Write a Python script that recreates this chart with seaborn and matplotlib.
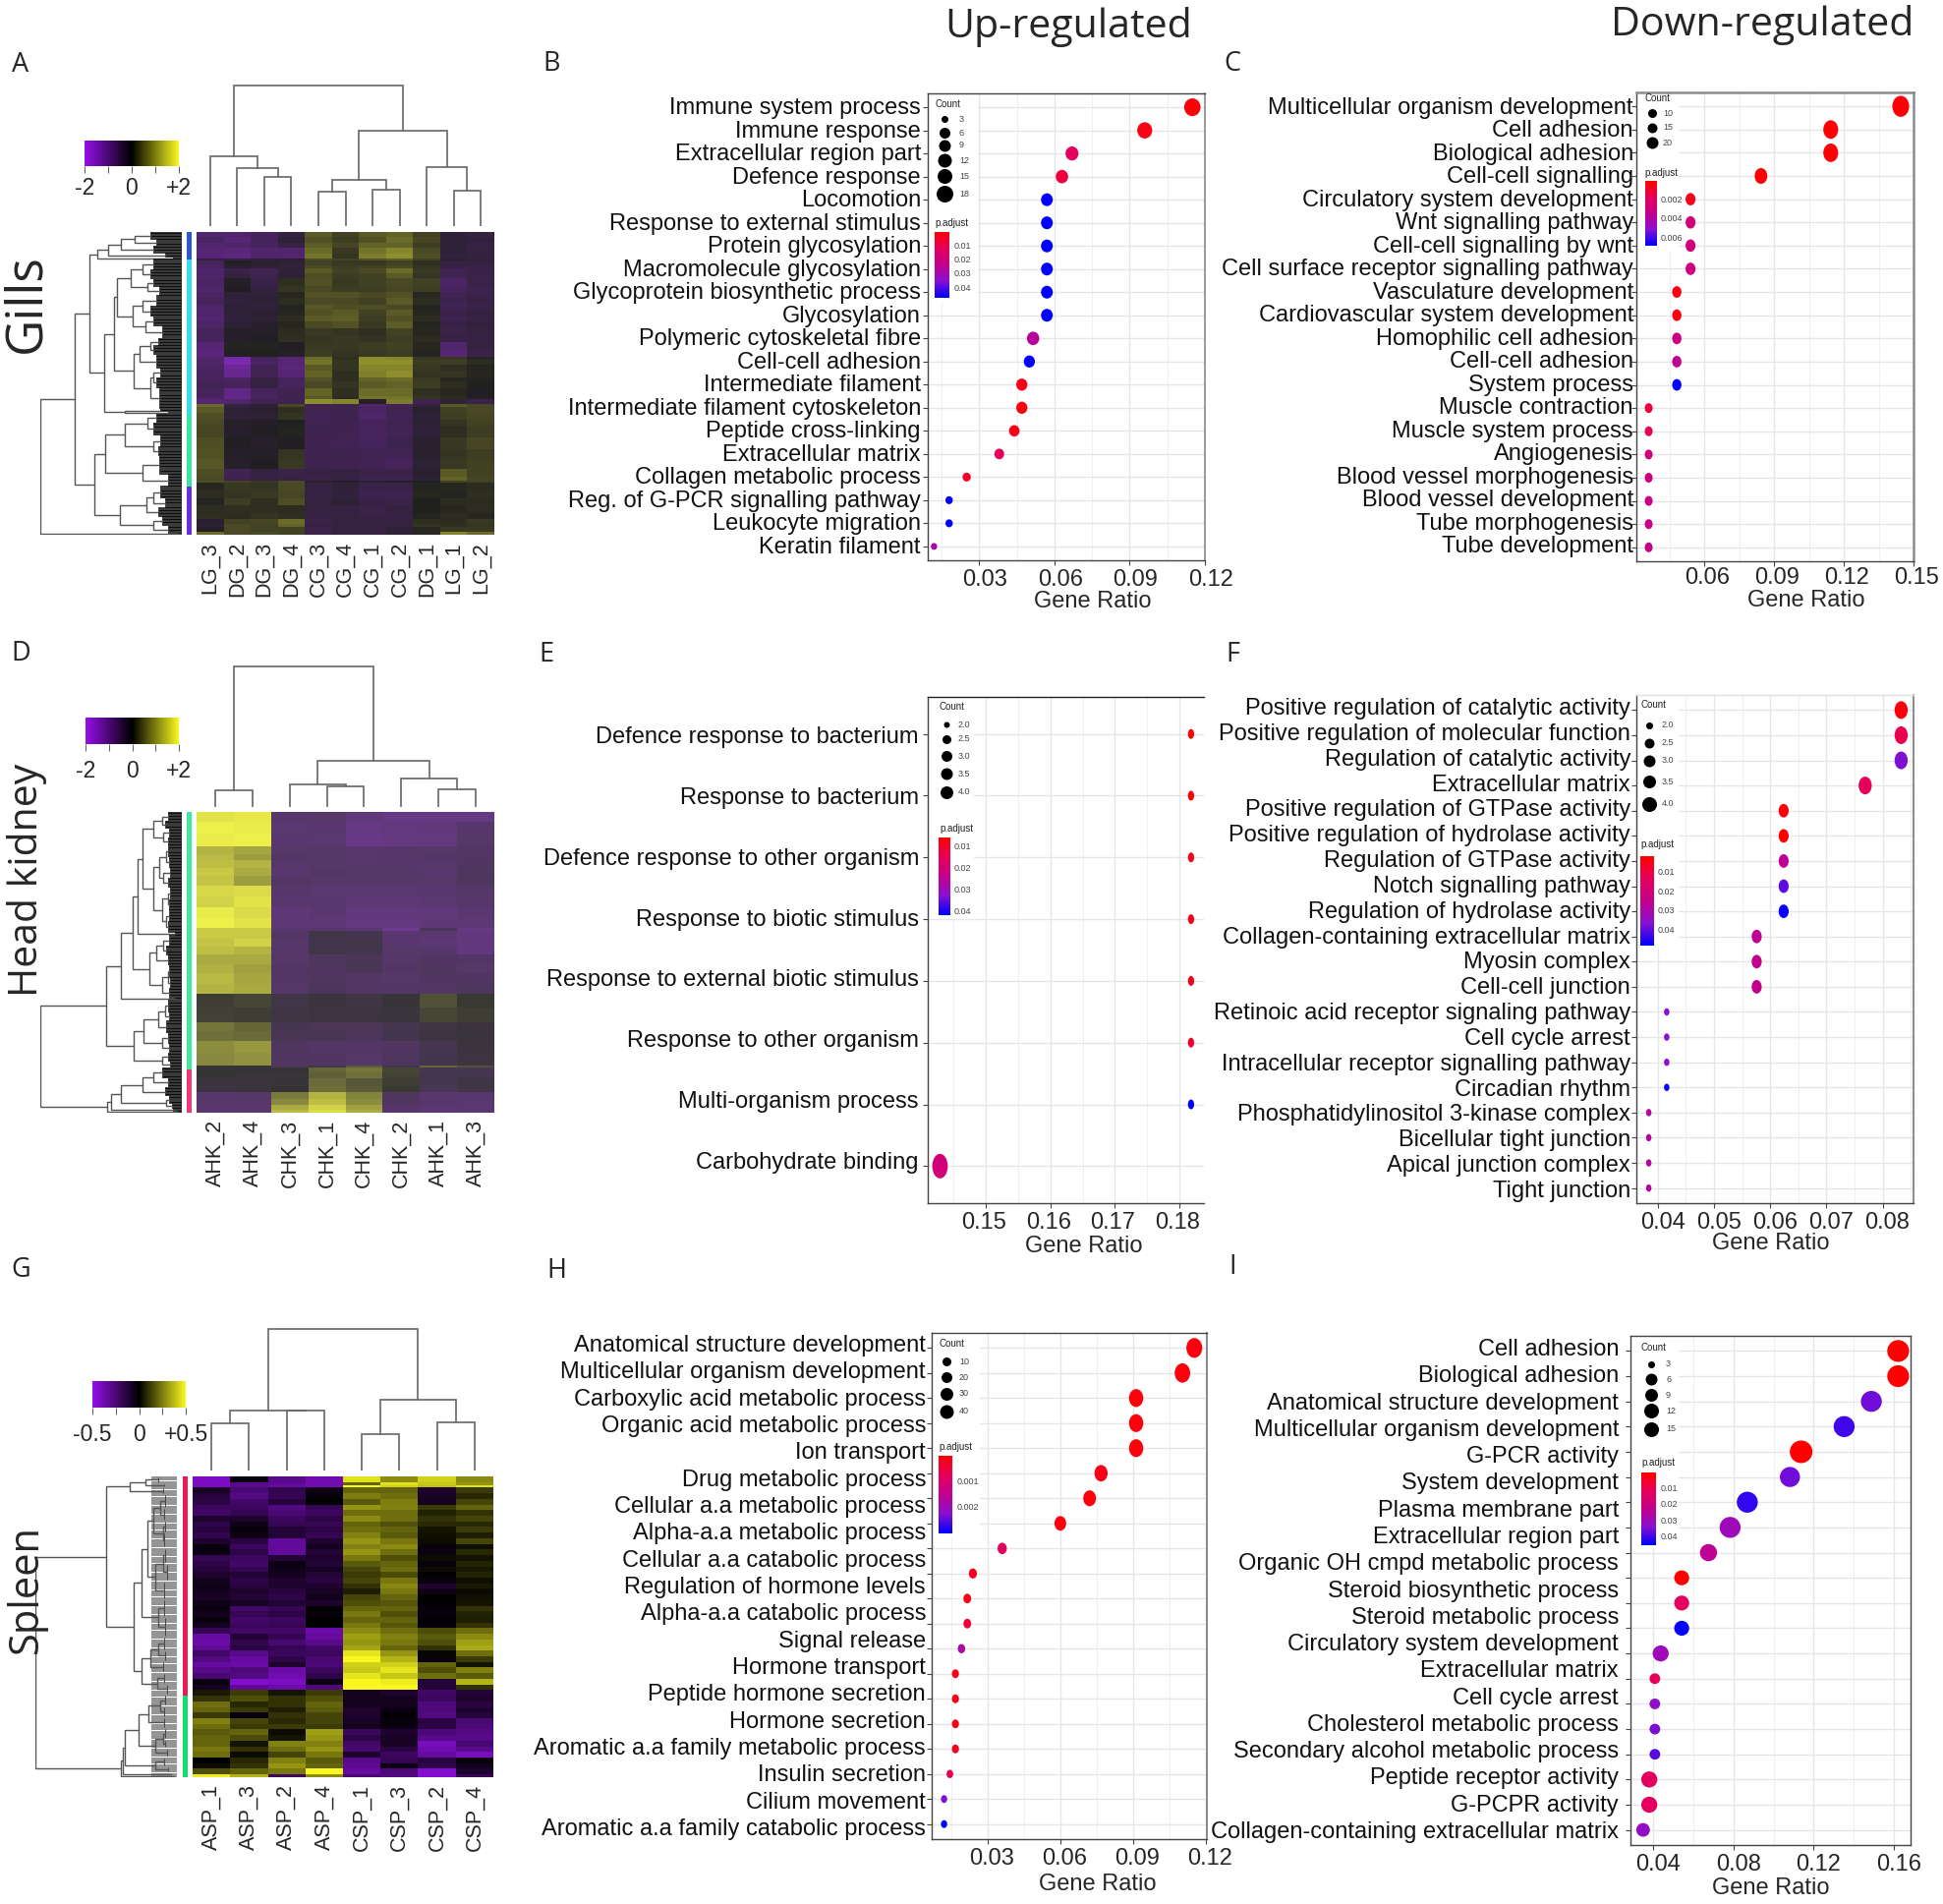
# libraries
import numpy as np
import pandas as pd
import seaborn as sns
import matplotlib
matplotlib.use("Agg")
import matplotlib.pyplot as plt
from matplotlib.colors import LinearSegmentedColormap, ListedColormap, TwoSlopeNorm
from matplotlib.patches import Rectangle
from matplotlib.path import Path
from matplotlib.transforms import Affine2D, ScaledTranslation

W, H = 1977, 1937

sns.set_style("white")
plt.rcParams["font.family"] = ["Liberation Sans", "DejaVu Sans"]

# heatmap columns
gills_cols = ["LG_3", "DG_2", "DG_3", "DG_4", "CG_3", "CG_4", "CG_1", "CG_2", "DG_1", "LG_1", "LG_2"]
kidney_cols = ["AHK_2", "AHK_4", "CHK_3", "CHK_1", "CHK_4", "CHK_2", "AHK_1", "AHK_3"]
spleen_cols = ["ASP_1", "ASP_3", "ASP_2", "ASP_4", "CSP_1", "CSP_3", "CSP_2", "CSP_4"]

gills_counts = [3, 4, 3, 4, 3, 1, 3, 2, 3, 3, 5, 4, 4, 4, 3, 4, 4, 4, 5, 4, 5, 4, 2, 3, 4, 4, 3, 4, 5, 2, 3, 2, 4, 4, 4,
                7, 8, 6, 6, 5, 3, 1, 5, 5, 4, 5, 4, 3, 2, 3, 2]
gills_rows = [
    [-.9, -.9, -.7, -.4, .7, .4, .7, .8, .4, -.3, -.4],
    [-.8, -1.0, -.7, -.3, .6, .35, .6, .9, .45, -.3, -.35],
    [-.95, -.85, -.75, -.45, .75, .45, .8, .8, .35, -.25, -.45],
    [-1.0, -1.1, -.9, -.9, .9, .3, 1.0, 1.2, .5, -.3, -.4],
    [-1.05, -1.15, -.85, -.95, 1.0, .25, 1.1, 1.3, .55, -.35, -.4],
    [-.4, -.4, -.3, -.2, .5, .4, .6, .7, .4, -.2, -.3],
    [-.7, -.1, -.2, -.3, .4, .3, .3, .4, .2, -.4, -.4],
    [-.75, -.2, -.3, -.35, .5, .35, .4, .5, .25, -.45, -.45],
    [-.9, -.5, -.6, -.3, .7, .4, .5, .9, .3, -.6, -.5],
    [-.85, -.4, -.55, -.25, .55, .35, .4, .7, .25, -.6, -.5],
    [-.8, -.1, -.5, .2, .6, .3, .4, .5, .4, -.8, -.5],
    [-.9, -.05, -.4, .25, .5, .35, .35, .45, .35, -.75, -.55],
    [-.8, -.3, -.3, .1, .6, .6, .5, .6, .1, -.6, -.5],
    [-.7, -.35, -.25, .15, .5, .5, .4, .7, .15, -.55, -.45],
    [-.85, -.25, -.35, .05, .65, .55, .55, .5, .05, -.65, -.5],
    [-.9, -.3, -.2, .1, .6, .7, .4, .7, .1, -.5, -.4],
    [-.95, -.35, -.25, .15, .7, .75, .35, .6, .15, -.55, -.45],
    [-.8, -.25, -.15, .1, .5, .6, .3, .75, .05, -.45, -.35],
    [-.7, -.1, -.1, .15, .3, .25, .2, .4, .1, -.5, -.4],
    [-.75, -.15, -.05, .2, .25, .3, .25, .35, .15, -.45, -.45],
    [-1.0, .05, .05, -.05, .3, .3, .35, .4, .1, -.9, -.4],
    [-1.1, -.05, .0, -.1, .35, .25, .3, .35, .05, -1.0, -.5],
    [-.9, -1.6, -.7, -1.0, .9, .2, 1.3, 1.2, .3, .3, .1],
    [-.85, -1.7, -.8, -1.05, 1.0, .25, 1.35, 1.35, .35, .35, .15],
    [-.8, -1.4, -.6, -1.1, .7, .25, 1.2, 1.2, .3, .2, .05],
    [-.75, -1.3, -.65, -1.0, .8, .2, 1.15, 1.3, .25, .25, .1],
    [-.7, -.8, -.4, -.7, .6, .2, .8, .9, .3, .1, .05],
    [-.65, -.7, -.45, -.75, .5, .25, .7, .8, .35, .15, .0],
    [-.7, -1.2, -.7, -.6, .8, .2, .9, .9, .2, .1, -.05],
    [-.8, -1.3, -.75, -.55, .7, .15, 1.0, 1.0, .25, .15, -.1],
    [-1.0, -.9, -.6, -.6, 1.3, 1.2, -.1, 1.1, -.6, -.3, -.5],
    [.9, -.4, -.3, .5, -.6, -.6, -.9, -.7, -.4, .7, .5],
    [.7, -.25, -.2, .2, -.6, -.6, -.8, -.6, -.2, .4, .5],
    [.55, -.3, -.25, .25, -.65, -.55, -.85, -.65, -.25, .35, .45],
    [.5, -.1, -.1, .0, -.6, -.6, -.7, -.6, -.25, .25, .4],
    [.45, -.15, -.05, .05, -.55, -.6, -.75, -.65, -.3, .2, .35],
    [.55, -.05, -.15, -.05, -.6, -.65, -.7, -.55, -.2, .3, .45],
    [.6, -.1, -.1, .25, -.6, -.55, -.6, -.65, -.2, .25, .35],
    [.65, -.15, -.05, .3, -.55, -.6, -.65, -.7, -.25, .3, .4],
    [.55, -.6, -.4, -.5, -.45, -.4, -.5, -.5, -.2, .7, .4],
    [.5, -.55, -.45, -.45, -.5, -.45, -.55, -.55, -.25, .8, .45],
    [.55, .4, .3, .5, -.2, -.1, -.2, -.1, .0, .4, .4],
    [.1, .3, .25, .5, -.4, -.3, -.5, -.5, .05, .1, .15],
    [.15, .25, .3, .45, -.45, -.35, -.55, -.55, .1, .05, .2],
    [.05, .35, .2, .55, -.4, -.25, -.45, -.5, .0, .15, .15],
    [.15, .2, .2, .15, -.4, -.4, -.5, -.4, .0, .1, .15],
    [.2, .15, .25, .2, -.45, -.4, -.45, -.45, .05, .15, .1],
    [-.2, .4, .45, .9, -.5, -.4, -.4, -.4, .2, .15, .3],
    [-.25, .5, .4, .8, -.45, -.45, -.45, -.4, .25, .2, .25],
    [-.1, .5, .4, .4, -.5, -.4, -.4, -.3, .1, .3, .3],
    [.9, .5, .5, .4, -.5, -.4, -.4, -.3, .1, 1.2, .9],
]

kidney_counts = [6, 8, 8, 5, 4, 5, 5, 6, 7, 7, 7, 6, 2, 5, 5, 5, 6, 6, 7, 6, 9, 9, 6, 6, 8, 8, 1, 3, 4, 5, 4, 4, 4, 3, 2]
kidney_rows = [
    [1.75, 1.8, -.9, -.85, -1.1, -1.3, -1.3, -1.3],
    [1.9, 1.85, -1.0, -.95, -1.3, -1.2, -1.15, -.9],
    [1.85, 1.9, -.95, -1.0, -1.35, -1.25, -1.2, -.85],
    [1.3, 1.15, -.85, -.85, -.9, -.9, -.85, -.8],
    [1.35, 1.05, -.8, -.85, -.95, -.85, -.8, -.75],
    [1.4, 1.3, -.9, -.85, -.9, -.9, -.9, -.75],
    [1.5, 1.2, -.95, -.8, -.85, -.85, -.95, -.7],
    [1.45, 1.05, -.8, -.85, -.85, -.85, -.85, -.7],
    [1.65, 1.7, -.9, -1.0, -1.0, -1.0, -.95, -.85],
    [1.6, 1.75, -.95, -.95, -1.05, -1.05, -1.0, -.9],
    [1.85, 1.7, -1.1, -1.0, -1.15, -1.15, -1.15, -1.0],
    [1.9, 1.75, -1.05, -1.05, -1.2, -1.2, -1.1, -1.05],
    [1.5, 1.5, -1.0, -.95, -1.0, -1.5, -.6, -1.3],
    [1.5, 1.5, -.8, -.35, -.4, -1.0, -1.0, -1.2],
    [1.45, 1.6, -.85, -.4, -.35, -.95, -1.05, -1.15],
    [1.4, 1.3, -.9, -.35, -.4, -.85, -.9, -1.2],
    [1.2, 1.2, -.85, -.7, -.6, -.85, -.75, -.8],
    [1.25, 1.1, -.8, -.75, -.55, -.8, -.7, -.85],
    [1.35, 1.15, -.8, -.7, -.8, -.85, -.75, -.75],
    [1.3, 1.2, -.85, -.65, -.75, -.8, -.8, -.7],
    [.1, .2, -.35, -.2, -.3, -.1, .3, .05],
    [.15, .1, -.3, -.25, -.25, -.15, .2, .1],
    [.65, .5, -.5, -.6, -.6, -.45, -.3, -.2],
    [.6, .55, -.55, -.55, -.65, -.4, -.25, -.15],
    [.9, 1.0, -.7, -.8, -.8, -.75, -.45, -.2],
    [.85, .95, -.75, -.75, -.85, -.7, -.4, -.25],
    [-.1, -.1, -.6, -.4, .4, -.4, .5, .3],
    [-.05, -.05, -.05, .5, .65, .2, -.5, -.5],
    [.0, -.1, -.1, .45, .6, .15, -.45, -.45],
    [-.2, -.2, -.1, .55, .35, .1, -.5, -.3],
    [-.25, -.15, -.05, .6, .4, .05, -.55, -.35],
    [-.9, -.85, .7, 1.3, .8, -.7, -.95, -.95],
    [-.85, -.9, .85, 1.4, .9, -.75, -.9, -1.0],
    [-.95, -.95, 1.2, 1.6, 1.1, -.9, -1.0, -1.0],
    [-1.0, -.95, 1.35, 1.7, 1.2, -.95, -1.05, -1.0],
]

spleen_counts = [2, 1, 1, 2, 2, 2, 2, 2, 2, 2, 2, 2, 2, 2, 2, 2, 2, 2, 2, 2, 2, 2, 2, 2, 2, 2, 2, 2,
                 2, 2, 2, 2, 2, 2, 2, 2, 2, 2, 2, 2, 2, 2, 2, 2, 2, 2, 2, 2, 2, 2, 2, 2, 2, 2, 1]
spleen_rows = [
    [-.42, -.03, -.3, -.38, .45, .28, .42, .28],
    [-.42, -.3, -.32, -.38, .2, .45, .4, .3],
    [-.42, -.3, -.35, -.38, .5, .42, .38, .45],
    [-.08, -.25, -.17, -.05, .2, .2, -.1, .12],
    [-.13, -.28, -.18, -.02, .25, .22, -.08, .08],
    [-.15, -.22, -.13, -.0, .18, .25, -.07, .14],
    [-.2, -.2, -.28, -.18, .3, .26, .12, .2],
    [-.22, -.18, -.25, -.2, .22, .22, .07, .1],
    [-.1, -.1, -.2, -.15, .28, .22, .1, .14],
    [-.16, -.05, -.18, -.18, .2, .16, .08, .08],
    [-.14, -.02, -.12, -.15, .22, .2, .04, .12],
    [-.17, -.05, -.12, -.18, .26, .18, .03, .06],
    [-.1, -.14, -.33, -.1, .3, .24, .02, .14],
    [-.03, -.2, -.33, -.07, .26, .28, -.02, .03],
    [-.04, -.16, -.33, -.12, .3, .22, -.04, .08],
    [-.18, -.2, -.12, -.1, .24, .16, .02, .04],
    [-.15, -.22, -.04, -.12, .18, .2, -.02, .07],
    [-.13, -.18, -.05, -.07, .14, .22, .02, .05],
    [-.1, -.12, -.07, -.12, .12, .15, .0, .07],
    [-.06, -.16, -.1, -.14, .14, .24, -.03, .03],
    [-.05, -.14, -.1, -.1, .1, .27, -.1, .05],
    [-.07, -.1, -.14, -.08, .06, .24, -.05, .02],
    [-.08, -.12, -.16, -.06, .14, .2, .0, .03],
    [-.05, -.08, -.12, -.1, .16, .17, -.01, .04],
    [-.03, -.22, -.18, -.0, .2, .2, -.02, .1],
    [-.06, -.18, -.15, -.02, .24, .16, -.03, .07],
    [-.03, -.22, -.2, -.0, .2, .2, -.01, .06],
    [-.07, -.2, -.18, -.01, .24, .17, -.02, .1],
    [-.18, -.22, -.22, -.36, .28, .22, .15, .22],
    [-.35, -.12, -.18, -.34, .32, .26, .18, .28],
    [-.36, -.17, -.24, -.3, .3, .24, .16, .32],
    [-.32, -.14, -.18, -.22, .33, .2, .1, .34],
    [-.22, -.3, -.2, -.2, .46, .3, .01, .22],
    [-.28, -.34, -.16, -.24, .5, .36, -.03, .12],
    [-.34, -.36, -.1, -.26, .42, .42, .2, .04],
    [-.3, -.26, -.36, -.2, .4, .46, .16, .26],
    [-.24, -.28, -.38, -.16, .46, .4, .22, .18],
    [-.04, -.44, -.42, -.04, .52, .48, -.12, .36],
    [-.07, -.32, -.36, -.26, .55, .5, -.12, .1],
    [.05, .12, .04, .12, -.07, -.1, -.22, -.12],
    [.1, .16, .1, .16, -.06, -.07, -.2, -.1],
    [.22, .08, .1, .2, -.07, -.06, -.26, -.14],
    [.2, .12, .06, .18, -.1, -.04, -.26, -.1],
    [.12, -.02, .1, .14, -.1, -.01, -.28, -.13],
    [.26, .14, .08, .14, -.08, -.02, -.14, -.24],
    [.22, .12, .12, .12, -.06, -.04, -.16, -.26],
    [.18, .2, .02, .32, -.2, -.1, -.26, -.28],
    [.2, .15, .04, .3, -.16, -.08, -.3, -.3],
    [.2, .04, .26, .26, -.22, -.08, -.4, -.24],
    [.24, .1, .22, .3, -.24, -.14, -.38, -.3],
    [.22, .02, .14, .24, -.1, -.2, -.34, -.4],
    [.0, .08, .26, .18, -.3, -.18, -.14, -.03],
    [.02, .1, .3, .2, -.32, -.04, -.16, -.06],
    [.16, .2, .24, .5, -.34, -.26, -.44, -.1],
    [.48, .36, -.2, .28, -.25, -.28, -.45, -.18],
]

# cluster side bars
gills_groups = [18, 103, 47, 32]
gills_group_colors = ["#2a5ad0", "#38dcf0", "#38e6a0", "#6a2ee0"]
kidney_groups = [171, 29]
kidney_group_colors = ["#40e8a0", "#f03878"]
spleen_groups = [73, 27]
spleen_group_colors = ["#f01850", "#10e070"]

# column trees: (height, left, right), ints are leaves
gills_col_tree = (1.0,
                  (.496, 0, (.411, 1, (.35, 2, 3))),
                  (.676, (.33, (.244, 4, 5), (.257, 6, 7)), (.42, 8, (.252, 9, 10))))
kidney_col_tree = (1.0,
                   (.12, 0, 1),
                   (.327, (.16, 2, (.144, 3, 4)), (.2, 5, (.125, 6, 7))))
spleen_col_tree = (1.0,
                   (.42, (.33, 0, 1), (.42, 2, 3)),
                   (.5, (.256, 4, 5), (.343, 6, 7)))

# row trees: (height, left, right), (height, n rows) are leaf clusters
gills_row_tree = (1.0,
    (.76,
     (.65,
      (.6, (.52, (.43, (.33, (.22, 5), (.18, 4)), (.2, 5)), (.12, 3)), (.06, 1)),
      (.546,
       (.48,
        (.455,
         (.36, (.28, (.2, 7), (.22, 6)), (.24, (.2, 5), (.16, 6))),
         (.35, (.28, (.18, 7), (.22, 7)), (.26, (.2, 6), (.14, 8)))),
        (.34, (.3, (.22, (.17, 5), (.2, 6)), (.18, 9)), (.22, (.2, (.15, 6), (.18, 7)), (.16, 14)))),
       (.4, (.15, 2), (.1, 1)))),
     (.62,
      (.54, (.4, (.24, (.18, 6), (.2, 8)), (.2, (.15, 8), (.17, 6))), (.28, (.16, 12), (.1, 8))),
      (.44, (.25, (.2, (.15, 8), (.12, 6)), (.17, 6)), (.2, (.14, 6), (.1, 5))))),
    (0.0, 1))
kidney_row_tree = (1.0,
    (.533,
     (.434,
      (.347,
       (.31,
        (.275,
         (.2, (.14, (.1, 6), (.12, 5)), (.13, (.09, 6), (.1, 5))),
         (.2, (.16, (.11, (.1, 8), (.09, 7)), (.13, (.08, 7), (.1, 6))),
          (.14, (.1, (.08, 8), (.09, 7)), (.11, (.09, 8), (.1, 7))))),
        (.05, 2)),
       (.23, (.18, (.13, (.09, 7), (.11, 6)), (.1, 7)), (.14, (.1, (.09, 8), (.08, 7)), (.09, 7)))),
      (.05, 1)),
     (.337, (.27, (.17, (.12, (.1, 8), (.09, 6)), (.11, 8)), (.14, (.1, 7), (.09, 6))), (.14, (.1, 6), (.08, 4)))),
    (.53, (.5, (.43, (.28, (.2, (.14, 7), (.1, 6)), (.12, 6)), (.11, (.09, 5), (.07, 3))), (.06, 2)), (.03, 1)))
spleen_row_tree = (1.0,
    (.5,
     (.33, (.22, (.13, 3), (.09, 2)), (.1, 3)),
     (.304,
      (.247,
       (.21, (.17, (.12, (.08, 6), (.09, 6)), (.1, (.08, 5), (.09, 7))), (.15, (.1, (.08, 7), (.07, 8)), (.09, 8))),
       (.13, (.09, 8), (.08, 9))),
      (.25, (.19, (.13, (.09, 6), (.08, 5)), (.1, 5)), (.14, (.09, 5), (.07, 5))))),
    (.395,
     (.385, (.37, (.27, (.2, (.12, (.08, 5), (.09, 5)), (.09, 5)), (.15, (.1, (.08, 5), (.08, 4)), (.07, 4))),
                  (.15, (.09, 4), (.06, 3))), (.04, 1)),
     (.02, 1)))

# dot plot B
terms_b = ["Immune system process", "Immune response", "Extracellular region part", "Defence response",
           "Locomotion", "Response to external stimulus", "Protein glycosylation", "Macromolecule glycosylation",
           "Glycoprotein biosynthetic process", "Glycosylation", "Polymeric cytoskeletal fibre", "Cell-cell adhesion",
           "Intermediate filament", "Intermediate filament cytoskeleton", "Peptide cross-linking",
           "Extracellular matrix", "Collagen metabolic process", "Reg. of G-PCR signalling pathway",
           "Leukocyte migration", "Keratin filament"]
ratio_b = [.115, .096, .067, .063, .057, .057, .057, .057, .057, .057, .0515, .05, .047, .047, .044, .038, .025, .018, .018, .012]
count_b = [18, 15, 11, 10, 9, 9, 9, 9, 9, 9, 10, 8, 8, 8, 7, 6, 4, 3, 3, 2]
padj_b = [.001, .003, .012, .008, .047, .047, .047, .047, .047, .047, .026, .047, .003, .002, .003, .012, .006, .047, .047, .028]

# dot plot C
terms_c = ["Multicellular organism development", "Cell adhesion", "Biological adhesion", "Cell-cell signalling",
           "Circulatory system development", "Wnt signalling pathway", "Cell-cell signalling by wnt",
           "Cell surface receptor signalling pathway", "Vasculature development", "Cardiovascular system development",
           "Homophilic cell adhesion", "Cell-cell adhesion", "System process", "Muscle contraction",
           "Muscle system process", "Angiogenesis", "Blood vessel morphogenesis", "Blood vessel development",
           "Tube morphogenesis", "Tube development"]
ratio_c = [.1445, .1144, .1144, .0844, .0541, .0541, .0541, .0541, .0482, .0482, .0482, .0482, .0482, .0361, .0361, .0361, .0361, .0361, .0361, .0361]
count_c = [24, 19, 19, 14, 9, 9, 9, 9, 8, 8, 8, 8, 8, 6, 6, 6, 6, 6, 6, 6]
padj_c = [.0001, .0001, .0001, .0001, .0005, .0028, .0028, .0029, .0003, .0003, .003, .0036, .0068, .0012, .0016, .0029, .003, .0032, .0032, .0032]

# dot plot E
terms_e = ["Defence response to bacterium", "Response to bacterium", "Defence response to other organism",
           "Response to biotic stimulus", "Response to external biotic stimulus", "Response to other organism",
           "Multi-organism process", "Carbohydrate binding"]
ratio_e = [.1818, .1818, .1818, .1818, .1818, .1818, .1818, .1429]
count_e = [2, 2, 2, 2, 2, 2, 2, 4]
padj_e = [.0056, .0056, .008, .008, .008, .01, .0418, .02]

# dot plot F
terms_f = ["Positive regulation of catalytic activity", "Positive regulation of molecular function",
           "Regulation of catalytic activity", "Extracellular matrix", "Positive regulation of GTPase activity",
           "Positive regulation of hydrolase activity", "Regulation of GTPase activity", "Notch signalling pathway",
           "Regulation of hydrolase activity", "Collagen-containing extracellular matrix", "Myosin complex",
           "Cell-cell junction", "Retinoic acid receptor signaling pathway", "Cell cycle arrest",
           "Intracellular receptor signalling pathway", "Circadian rhythm", "Phosphatidylinositol 3-kinase complex",
           "Bicellular tight junction", "Apical junction complex", "Tight junction"]
ratio_f = [.0833, .0833, .0833, .0769, .0624, .0624, .0624, .0624, .0624, .0576, .0576, .0576, .0416, .0416, .0416, .0416, .0384, .0384, .0384, .0384]
count_f = [4, 4, 4, 4, 3, 3, 3, 3, 3, 3, 3, 3, 2, 2, 2, 2, 2, 2, 2, 2]
padj_f = [.003, .012, .037, .013, .002, .002, .026, .04, .047, .026, .025, .025, .036, .036, .036, .047, .028, .028, .028, .028]

# dot plot H: 20 rows of dots, 19 labels
terms_h = ["Anatomical structure development", "Multicellular organism development", "Carboxylic acid metabolic process",
           "Organic acid metabolic process", "Ion transport", "Drug metabolic process", "Cellular a.a metabolic process",
           "Alpha-a.a metabolic process", "Cellular a.a catabolic process", "Regulation of hormone levels",
           "Alpha-a.a catabolic process", "Signal release", "Hormone transport", "Peptide hormone secretion",
           "Hormone secretion", "Aromatic a.a family metabolic process", "Insulin secretion", "Cilium movement",
           "Aromatic a.a family catabolic process"]
ratio_h = [.1153, .1104, .0913, .0913, .0913, .0768, .0721, .06, .036, .0239, .0216, .0216, .0192, .0167, .0167, .0167, .0167, .0144, .012, .012]
count_h = [46, 44, 37, 37, 37, 31, 29, 24, 14, 10, 9, 9, 8, 7, 7, 7, 7, 6, 5, 5]
padj_h = [.0001, .0001, .0001, .0001, .0001, .0002, .0001, .0001, .0008, .0003, .0002, .0005, .0018, .0002, .0002, .0002, .0003, .0007, .0023, .003]

# dot plot I: 20 rows of dots, 19 labels
terms_i = ["Cell adhesion", "Biological adhesion", "Anatomical structure development", "Multicellular organism development",
           "G-PCR activity", "System development", "Plasma membrane part", "Extracellular region part",
           "Organic OH cmpd metabolic process", "Steroid biosynthetic process", "Steroid metabolic process",
           "Circulatory system development", "Extracellular matrix", "Cell cycle arrest", "Cholesterol metabolic process",
           "Secondary alcohol metabolic process", "Peptide receptor activity", "G-PCPR activity",
           "Collagen-containing extracellular matrix"]
ratio_i = [.1623, .1623, .1489, .1353, .1138, .1082, .0869, .0783, .0675, .0541, .0541, .0541, .0436, .0407, .0407, .0407, .0407, .0379, .0379, .0348]
count_i = [14, 14, 13, 13, 15, 12, 13, 13, 9, 7, 7, 7, 8, 4, 4, 4, 4, 8, 8, 6]
padj_i = [.0003, .0003, .036, .04, .0001, .036, .041, .03, .024, .0001, .012, .045, .03, .012, .033, .035, .038, .012, .012, .032]

# legend entries
legend_counts_b = ["3", "6", "9", "12", "15", "18"]
legend_counts_c = ["10", "15", "20"]
legend_counts_e = ["2.0", "2.5", "3.0", "3.5", "4.0"]
legend_counts_f = ["2.0", "2.5", "3.0", "3.5", "4.0"]
legend_counts_h = ["10", "20", "30", "40"]
legend_counts_i = ["3", "6", "9", "12", "15"]
legend_p_b = [.01, .02, .03, .04]
legend_p_c = [.002, .004, .006]
legend_p_e = [.01, .02, .03, .04]
legend_p_f = [.01, .02, .03, .04]
legend_p_h = [.001, .002]
legend_p_i = [.01, .02, .03, .04]

heat_cmap = LinearSegmentedColormap.from_list("pby", ["#9410e8", "#000000", "#f8f820"])
dot_cmap = LinearSegmentedColormap.from_list("rb", ["#ff0000", "#e6005a", "#c4008c", "#8a10d0", "#0000ff"])

fig = plt.figure(figsize=(W / 100, H / 100), dpi=100, facecolor="white")


def box(x0, y0, x1, y1):
    return fig.add_axes([x0 / W, 1 - y1 / H, (x1 - x0) / W, (y1 - y0) / H])


def put(x, y, s, **kw):
    kw.setdefault("ha", "center")
    kw.setdefault("va", "center")
    fig.text(x / W, 1 - y / H, s, **kw)


def draw_col_tree(ax, node):
    if isinstance(node, int):
        return node + 0.5, 0.0
    xa, ha = draw_col_tree(ax, node[1])
    xb, hb = draw_col_tree(ax, node[2])
    ax.plot([xa, xa, xb, xb], [ha, node[0], node[0], hb], color="#666666", lw=1.2, solid_joinstyle="miter")
    return (xa + xb) / 2, node[0]


def draw_row_tree(ax, node, start, leaf_color, leaf_lw, leaf_min):
    if len(node) == 2:
        ys = start + 0.5 + np.arange(node[1])
        if node[0] > 0:
            ax.hlines(ys, 0, max(node[0], leaf_min), color=leaf_color, lw=leaf_lw)
        else:
            ax.hlines(ys, 0, 0.02, color=leaf_color, lw=leaf_lw)
        if node[1] > 1:
            ax.vlines(node[0], ys[0], ys[-1], color="#444444", lw=0.7)
        return node[0], ys.mean(), start + node[1]
    ha, ya, s1 = draw_row_tree(ax, node[1], start, leaf_color, leaf_lw, leaf_min)
    hb, yb, s2 = draw_row_tree(ax, node[2], s1, leaf_color, leaf_lw, leaf_min)
    ax.plot([ha, node[0], node[0], hb], [ya, ya, yb, yb], color="#555555", lw=1.0, solid_joinstyle="miter")
    return node[0], (ya + yb) / 2, s2


def count_rows(node):
    if len(node) == 2:
        return node[1]
    return count_rows(node[1]) + count_rows(node[2])


def clustermap_panel(heat, dend_x, col_y, rows, counts, cols, limits, alpha, col_tree, row_tree,
                     groups, group_colors, side_x, bar, bar_labels, leaf_color, leaf_lw, leaf_min, bar_pad):
    # main heatmap, rows repeated by band height
    ax = box(heat[0], heat[1], heat[2], heat[3])
    sns.heatmap(np.repeat(np.array(rows), counts, axis=0), ax=ax, cmap=heat_cmap,
                norm=TwoSlopeNorm(vcenter=0, vmin=-limits[0], vmax=limits[1]),
                cbar=False, alpha=alpha, xticklabels=cols, yticklabels=False, rasterized=True)
    ax.tick_params(axis="x", length=0, pad=5, labelsize=15.5, labelrotation=90)

    # column tree
    ax = box(heat[0], col_y[0], heat[2], col_y[1])
    draw_col_tree(ax, col_tree)
    ax.set_xlim(0, len(cols))
    ax.set_ylim(0, 1.005)
    ax.axis("off")

    # row tree
    ax = box(dend_x[0], heat[1], dend_x[1], heat[3])
    n = count_rows(row_tree)
    draw_row_tree(ax, row_tree, 0, leaf_color, leaf_lw, leaf_min)
    ax.set_xlim(1.0, 0)
    ax.set_ylim(n, 0)
    ax.axis("off")

    # side bar
    ax = box(side_x[0], heat[1], side_x[1], heat[3])
    sns.heatmap(np.repeat(np.arange(len(groups)), groups).reshape(-1, 1), ax=ax, cbar=False,
                cmap=ListedColormap(group_colors), xticklabels=False, yticklabels=False)

    # colour key
    ax = box(bar[0], bar[1], bar[2], bar[3])
    ax.imshow(np.linspace(-1, 1, 200).reshape(1, -1), cmap=heat_cmap, aspect="auto", extent=[-1, 1, 0, 1])
    ax.set_yticks([])
    ax.set_xticks([-1, -.5, 0, .5, 1])
    ax.set_xticklabels(bar_labels, fontsize=16.5)
    ax.tick_params(axis="x", length=5, width=0.8, color="#666666", pad=bar_pad, bottom=True)
    for s in ax.spines.values():
        s.set_visible(False)


def dot_panel(rect, terms, ratios, counts, padj, xlim, xticks, minor, aspect, size_range, count_norm, p_norm,
              label_span, label_x, spines, leg, xlabel_at, tick_shift, tick_pad=3):
    ax = box(*rect)
    rows = np.arange(len(ratios))
    df = pd.DataFrame({"ratio": ratios, "row": rows, "count": counts, "padj": padj})
    ellipse = Affine2D().scale(aspect, 1).transform_path(Path.unit_circle())

    ax.set_axisbelow(True)
    ax.grid(True, which="major", color="#e6e6e6", lw=1.0)
    ax.set_xticks(minor, minor=True)
    ax.grid(True, which="minor", axis="x", color="#f0f0f0", lw=0.8)
    sns.scatterplot(data=df, x="ratio", y="row", size="count", sizes=size_range, size_norm=count_norm,
                    hue="padj", hue_norm=p_norm, palette=dot_cmap, marker=ellipse, linewidth=0,
                    legend=False, ax=ax, zorder=3)
    ax.set_xlim(*xlim)
    ax.set_ylim(len(rows) - 1 + 0.6, -0.6)
    ax.set_xticks(xticks)
    ax.set_xticklabels(["%.2f" % t for t in xticks], fontsize=17)
    ax.set_yticks(rows)
    ax.set_yticklabels([])
    ax.set_xlabel("")
    ax.set_ylabel("")
    ax.tick_params(axis="both", which="major", length=3.5, width=0.8, color="#444444", left=True, bottom=True, pad=tick_pad)
    ax.tick_params(axis="x", which="minor", length=0)
    shift = ScaledTranslation(tick_shift / 100, 0, fig.dpi_scale_trans)
    for lab in ax.get_xticklabels():
        lab.set_transform(lab.get_transform() + shift)
    for name, s in ax.spines.items():
        col, lw = spines[name]
        s.set_color(col)
        s.set_linewidth(lw)

    # hand placed term labels
    for y, term in zip(np.linspace(label_span[0], label_span[1], len(terms)), terms):
        put(label_x, y, term, ha="right", fontsize=17, color="#111111")
    put(xlabel_at[0], xlabel_at[1], "Gene Ratio", fontsize=17)

    # legends sit on a white patch, offsets in pixels from the top left corner
    w, h = rect[2] - rect[0], rect[3] - rect[1]
    fx = lambda px: px / w
    fy = lambda px: 1 - px / h
    ax.add_patch(Rectangle((0.004, fy(leg["patch_h"])), fx(leg["patch_w"]), leg["patch_h"] / h, transform=ax.transAxes,
                           facecolor="white", edgecolor="none", zorder=2))
    ax.text(fx(leg["title_x"]), fy(leg["count_y"]), "Count", transform=ax.transAxes, fontsize=7, va="center", color="#222222", zorder=4)
    for lab, y, d in zip(leg["counts"], leg["dot_y"], leg["dot_d"]):
        ax.scatter([fx(leg["dot_x"])], [fy(y)], s=(d * 0.72) ** 2, color="black", linewidth=0, transform=ax.transAxes, zorder=4, clip_on=False)
        ax.text(fx(leg["lab_x"]), fy(y), lab, transform=ax.transAxes, fontsize=6.5, va="center", color="#444444", zorder=4)
    ax.text(fx(leg["title_x"]), fy(leg["p_y"]), "p.adjust", transform=ax.transAxes, fontsize=7, va="center", color="#222222", zorder=4)
    bx0, bx1, by0, by1 = leg["bar"]
    cax = ax.inset_axes([fx(bx0), fy(by1), (bx1 - bx0) / w, (by1 - by0) / h], zorder=4)
    cax.imshow(np.linspace(0, 1, 100).reshape(-1, 1), cmap=dot_cmap, aspect="auto")
    cax.axis("off")
    for v in leg["p"]:
        y = by0 + (v - p_norm[0]) / (p_norm[1] - p_norm[0]) * (by1 - by0)
        ax.text(fx(leg["p_x"]), fy(y), ("%.3f" % v) if v < 0.01 else ("%.2f" % v), transform=ax.transAxes, fontsize=6.5,
                va="center", color="#444444", zorder=4)


# heatmaps
clustermap_panel((200, 236, 503, 544), (41, 185), (86, 230), gills_rows, gills_counts, gills_cols, (2.4, 2.6), 0.88,
                 gills_col_tree, gills_row_tree, gills_groups, gills_group_colors, (190, 195),
                 (86, 143, 182, 169), ["-2", "", "0", "", "+2"], "black", 1.1, 0, 3)
clustermap_panel((200, 826, 503, 1132), (41, 185), (677, 821), kidney_rows, kidney_counts, kidney_cols, (3.0, 2.0), 0.8,
                 kidney_col_tree, kidney_row_tree, kidney_groups, kidney_group_colors, (190, 195),
                 (87, 730, 182, 757), ["-2", "", "0", "", "+2"], "black", 1.1, 0, 6.5)
clustermap_panel((196, 1502, 502, 1808), (36, 180), (1351, 1496), spleen_rows, spleen_counts, spleen_cols, (0.5, 0.5), 1.0,
                 spleen_col_tree, spleen_row_tree, spleen_groups, spleen_group_colors, (186, 191),
                 (94, 1405, 189, 1432), ["-0.5", "", "0", "", "+0.5"], "#8a8a8a", 1.3, 0.18, 6.5)

# dot plots
dark = ("#444444", 1.0)
grey = ("#8c8c8c", 1.8)
none = ("white", 0)
faint = ("#e0e0e0", 1.0)

dot_panel((944, 95, 1226, 570), terms_b, ratio_b, count_b, padj_b, (.0095, .12), [.03, .06, .09, .12],
          [.015, .045, .075, .105], 0.92, (25, 169), (2, 18), (0, .047), (110, 557), 937,
          {"left": dark, "bottom": dark, "top": dark, "right": ("#888888", 1.2)},
          dict(counts=legend_counts_b, dot_x=17, dot_y=[26, 40, 53, 68, 84, 102], dot_d=[7, 11, 12, 14, 15, 17], lab_x=32,
               title_x=7, count_y=11, p_y=132, bar=(7, 22, 141, 208), p_x=27, p=legend_p_b, patch_w=50, patch_h=212),
          (1112, 612), 6)
dot_panel((1665, 94, 1947, 571), terms_c, ratio_c, count_c, padj_c, (.0308, .15), [.06, .09, .12, .15],
          [.045, .075, .105, .135], 0.8, (52, 237), (6, 24), (0, .0068), (110, 556), 1662,
          {"left": dark, "bottom": dark, "top": grey, "right": grey},
          dict(counts=legend_counts_c, dot_x=16, dot_y=[21, 36, 51], dot_d=[9, 10, 12], lab_x=27,
               title_x=8, count_y=6, p_y=82, bar=(9, 21, 90, 156), p_x=25, p=legend_p_c, patch_w=42, patch_h=162),
          (1838, 611), 3, 1)
dot_panel((944, 709, 1225, 1224), terms_e, ratio_e, count_e, padj_e, (.141, .1838), [.15, .16, .17, .18],
          [.145, .155, .165, .175], 0.63, (52, 324), (2, 4), (.0054, .0418), (750, 1183), 935,
          {"left": dark, "bottom": dark, "top": ("#222222", 1.0), "right": none},
          dict(counts=legend_counts_e, dot_x=19, dot_y=[28, 43, 60, 78, 97], dot_d=[6, 9, 11, 12, 13], lab_x=31,
               title_x=12, count_y=10, p_y=134, bar=(11, 23, 143, 222), p_x=27, p=legend_p_e, patch_w=46, patch_h=226),
          (1103, 1268), -2)
dot_panel((1665, 707, 1947, 1224), terms_f, ratio_f, count_f, padj_f, (.0362, .0855), [.04, .05, .06, .07, .08],
          [.045, .055, .065, .075, .085], 0.74, (29, 169), (2, 4), (.0016, .0478), (721, 1212), 1659,
          {"left": dark, "bottom": dark, "top": faint, "right": ("#777777", 1.2)},
          dict(counts=legend_counts_f, dot_x=13, dot_y=[31, 49, 67, 88, 111], dot_d=[7, 10, 12, 13, 15], lab_x=26,
               title_x=4, count_y=10, p_y=152, bar=(4, 18, 164, 255), p_x=22, p=legend_p_f, patch_w=42, patch_h=258),
          (1802, 1265), 5)
dot_panel((948, 1356, 1228, 1871), terms_h, ratio_h, count_h, padj_h, (.0069, .1205), [.03, .06, .09, .12],
          [.015, .045, .075, .105], 0.8, (33, 210), (5, 46), (0, .003), (1369, 1861), 942,
          {"left": dark, "bottom": dark, "top": dark, "right": ("#777777", 1.2)},
          dict(counts=legend_counts_h, dot_x=15, dot_y=[29, 45, 62, 80], dot_d=[9, 11, 13, 14], lab_x=28,
               title_x=7, count_y=11, p_y=116, bar=(7, 21, 125, 204), p_x=26, p=legend_p_h, patch_w=48, patch_h=208),
          (1117, 1917), 4)
dot_panel((1659, 1359, 1944, 1877), terms_i, ratio_i, count_i, padj_i, (.0285, .1685), [.04, .08, .12, .16],
          [.06, .10, .14], 1.0, (42, 275), (3, 15), (0, .0452), (1373, 1864), 1647,
          {"left": dark, "bottom": dark, "top": dark, "right": dark},
          dict(counts=legend_counts_i, dot_x=21, dot_y=[29, 44, 60, 76, 95], dot_d=[7, 12, 13, 15, 15], lab_x=36,
               title_x=11, count_y=12, p_y=129, bar=(11, 26, 139, 213), p_x=31, p=legend_p_i, patch_w=48, patch_h=216),
          (1802, 1921), 5)

# titles and panel letters
put(1087, 28, "Up-regulated", fontsize=29.6, family="Open Sans")
put(1793, 25, "Down-regulated", fontsize=29.6, family="Open Sans")
for letter, x, y in [("A", 21, 66), ("B", 561, 65), ("C", 1254, 65), ("D", 21, 665), ("E", 556, 666),
                     ("F", 1254, 666), ("G", 21, 1292), ("H", 566, 1293), ("I", 1254, 1289)]:
    put(x, y, letter, fontsize=19.5, family="Open Sans")
put(27, 309, "Gills", fontsize=37, rotation=90, family="Open Sans")
put(28, 895, "Head kidney", fontsize=29.5, rotation=90, family="Open Sans")
put(27, 1616, "Spleen", fontsize=30, rotation=90, family="Open Sans")

fig.savefig("out.png", dpi=100)
